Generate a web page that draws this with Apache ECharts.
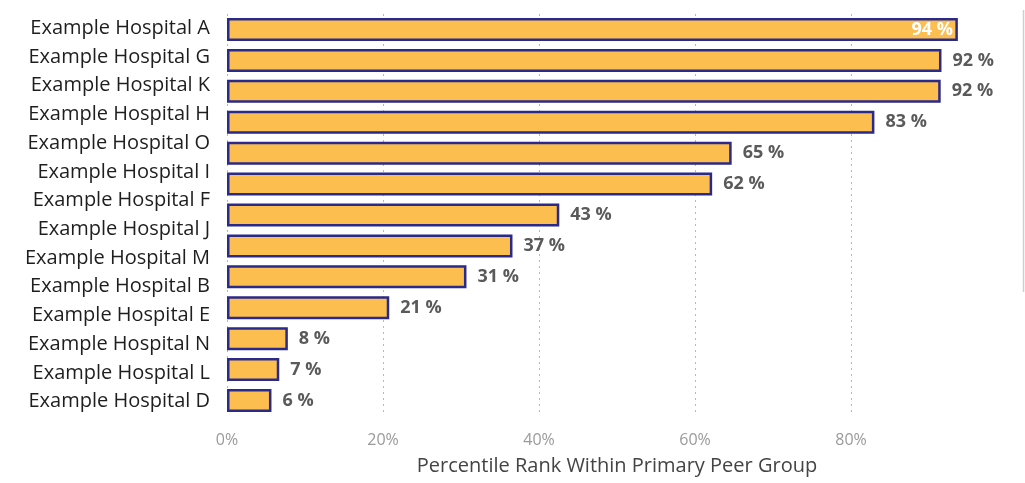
<!DOCTYPE html>
<html>
<head>
<meta charset="utf-8">
<script src="https://cdn.jsdelivr.net/npm/echarts@6/dist/echarts.min.js"></script>
<style>
html,body{margin:0;padding:0;background:#fff;}
#chart{width:1025px;height:483px;}
</style>
</head>
<body>
<div id="chart"></div>
<script>
// Category labels shown on the left (14 labels)
const hospitals = ['Example Hospital A','Example Hospital G','Example Hospital K','Example Hospital H','Example Hospital O','Example Hospital I','Example Hospital F','Example Hospital J','Example Hospital M','Example Hospital B','Example Hospital E','Example Hospital N','Example Hospital L','Example Hospital D'];
// Bar slots (13 bars are drawn in the reference)
const barSlots = hospitals.slice(0, 13);
// Percentile rank values
const ranks = [93.7, 91.6, 91.5, 83.0, 64.7, 62.2, 42.6, 36.6, 30.7, 20.8, 7.8, 6.7, 5.7];
const xTicks = [0, 20, 40, 60, 80];
const axisTitle = 'Percentile Rank Within Primary Peer Group';

const chart = echarts.init(document.getElementById('chart'));
const data = ranks.map((v, i) => {
  if (i === 0) {
    return {value: v, label: {position: 'insideRight', color: '#ffffff', distance: 5}};
  }
  return v;
});
chart.setOption({
  animation: false,
  grid: {left: 227, right: 18, top: 14, height: 402, containLabel: false},
  xAxis: {
    type: 'value', min: 0, max: 100, interval: 20,
    name: axisTitle, nameLocation: 'middle', nameGap: 40,
    nameTextStyle: {fontFamily: 'Open Sans', fontSize: 20, color: '#444'},
    axisLine: {show: false}, axisTick: {show: false},
    axisLabel: {
      formatter: v => xTicks.indexOf(v) >= 0 ? v + '%' : '',
      showMaxLabel: false,
      fontFamily: 'Open Sans', fontSize: 16, color: '#9a9a9a', margin: 16
    },
    splitLine: {show: true, showMinLine: true, showMaxLine: false, lineStyle: {type: [2, 4], color: '#b8b8b8', width: 1}}
  },
  yAxis: [{
    type: 'category', inverse: true, data: hospitals,
    axisLine: {show: false}, axisTick: {show: false},
    axisLabel: {fontFamily: 'Open Sans', fontSize: 20, color: '#1e1e1e', margin: 17}
  }, {
    type: 'category', inverse: true, data: barSlots, position: 'left',
    axisLine: {show: false}, axisTick: {show: false}, axisLabel: {show: false}
  }],
  series: [{
    type: 'bar', yAxisIndex: 1, data: data, barWidth: 23,
    itemStyle: {color: '#FBBE4F', borderColor: '#2A2A8A', borderWidth: 2.5},
    label: {
      show: true, position: 'right', distance: 11,
      formatter: p => Math.round(p.value) + ' %',
      fontFamily: 'Open Sans', fontWeight: 'bold', fontSize: 18, color: '#5a5a5a'
    }
  }],
  graphic: [{
    type: 'line', shape: {x1: 1023.5, y1: 10, x2: 1023.5, y2: 292},
    style: {stroke: '#cfcfcf', lineWidth: 1.5}
  }]
});
</script>
</body>
</html>
